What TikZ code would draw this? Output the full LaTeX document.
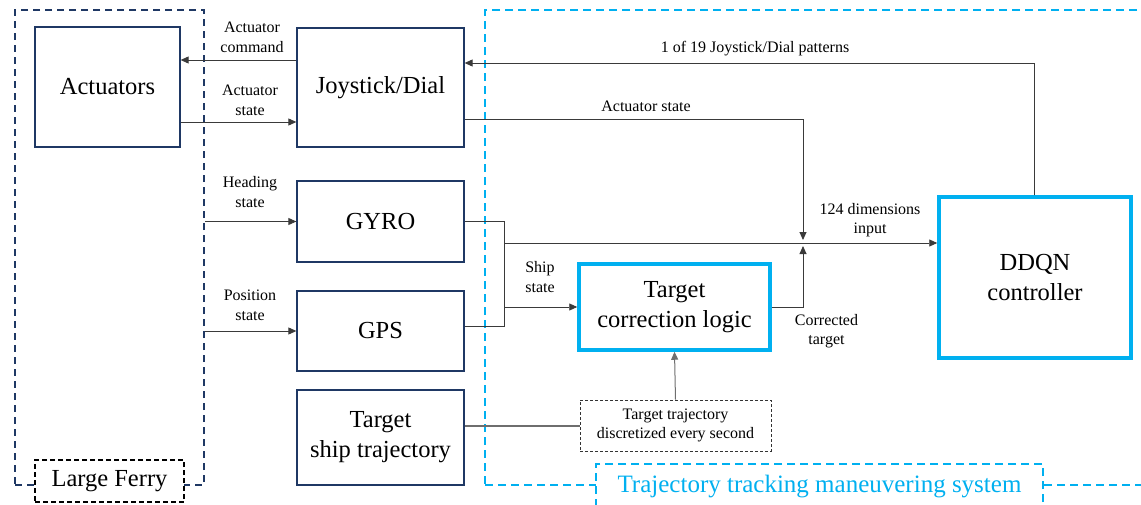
\documentclass[tikz,border=0pt]{standalone}
\usepackage{fontspec}
\setmainfont{Liberation Serif}
\newfontfamily\tnrfont{Liberation Serif}
\usetikzlibrary{arrows.meta}
\definecolor{navy}{HTML}{1F3864}
\definecolor{sky}{HTML}{00B0F0}
\definecolor{wire}{HTML}{3A3A3A}
\definecolor{greywire}{HTML}{6E6E6E}
\begin{document}
\begin{tikzpicture}[x=1pt,y=-1pt,
  bigtext/.style={font=\tnrfont\fontsize{24.5}{30}\selectfont},
  smalltext/.style={font=\tnrfont\fontsize{16}{19.5}\selectfont, align=center, inner sep=0pt},
  blk/.style={draw=navy, line width=1.3pt, align=center, bigtext, inner sep=0pt},
  hot/.style={draw=sky, line width=3.5pt, align=center, bigtext, inner sep=0pt},
  wirel/.style={draw=wire, line width=0.9pt},
  arr/.style={wirel, -{Triangle[length=8pt,width=7pt]}},
  ferryframe/.style={draw=navy, line width=2pt, dash pattern=on 7pt off 5pt, inner sep=0pt},
  sysframe/.style={draw=sky, line width=2pt, dash pattern=on 8pt off 5pt, inner sep=0pt},
]
\useasboundingbox (0,0) rectangle (1141,504);

% frames
\node[ferryframe, minimum width=189pt, minimum height=475pt] (ferry) at (109.5,247.5) {};
\node[sysframe, minimum width=680pt, minimum height=475pt] (sys) at (825,247.5) {};
\node[draw=black, fill=white, line width=2pt, dash pattern=on 5pt off 3pt,
      minimum width=149pt, minimum height=42pt, inner sep=0pt, bigtext] (ferrylbl) at (109.5,481) {Large Ferry};
\node[draw=sky, fill=white, line width=2pt, dash pattern=on 8pt off 5pt, text=sky,
      minimum width=447pt, minimum height=46pt, inner sep=0pt, font=\tnrfont\fontsize{25}{30}\selectfont] (syslbl) at (819.5,487) {Trajectory tracking maneuvering system};

% blocks
\node[blk, minimum width=145pt, minimum height=120pt] (act) at (107.5,87) {Actuators};
\node[blk, minimum width=167pt, minimum height=119pt] (joy) at (380.5,87.5) {Joystick/Dial};
\node[blk, minimum width=167pt, minimum height=81pt] (gyro) at (380.5,221.5) {GYRO};
\node[blk, minimum width=167pt, minimum height=80pt] (gps) at (380.5,331) {GPS};
\node[blk, minimum width=167pt, minimum height=95pt] (tst) at (380.5,437.5) {Target\\ship trajectory};
\node[hot, minimum width=191pt, minimum height=86pt] (tcl) at (674.5,307) {Target\\correction logic};
\node[hot, minimum width=192pt, minimum height=161pt] (ddqn) at (1035,277.5) {DDQN\\controller};
\node[draw=black!80, line width=0.9pt, dash pattern=on 3pt off 2pt, minimum width=191pt, minimum height=51pt,
      smalltext] (dbox) at (675.5,425.5) {Target trajectory\\discretized every second};

% coordinates
\coordinate (cmd) at ([yshift=27.5pt]joy.west);
\coordinate (ast) at ([yshift=-34.5pt]joy.west);
\coordinate (pat) at ([yshift=24.5pt]joy.east);
\coordinate (aso) at ([yshift=-31.5pt]joy.east);
\coordinate (gpso) at ([yshift=5pt]gps.east);
\coordinate (split) at (504,243);
\coordinate (merge) at (803,243);
\coordinate (ddqnin) at (ddqn.west |- split);
\coordinate (ddqntop) at ([xshift=-1pt]ddqn.north);
\coordinate (tstout) at (dbox.west -| tst.east);

% connectors
\draw[arr] (cmd) -- (cmd -| act.east);
\draw[arr] (ast -| act.east) -- (ast);
\draw[arr] (gyro.west -| ferry.east) -- (gyro.west);
\draw[arr] (gps.west -| ferry.east) -- (gps.west);
\draw[arr] (ddqntop) |- (pat);
\draw[arr] (aso) -| ([yshift=3pt]merge);
\draw[wirel] (gyro.east) -| (split |- gpso) -- (gpso);
\draw[arr] (split) -- (ddqnin);
\draw[arr] (split |- tcl.west) -- (tcl.west);
\draw[arr] (tcl.east) -| ([yshift=-3pt]merge);
\draw[draw=greywire, line width=2pt] (tstout) -- (dbox.west);
\draw[draw=greywire, line width=1pt, -{Triangle[length=8pt,width=7pt]}] (dbox.north) -- (tcl.south);

% labels
\node[smalltext] (l1) at (252,37.5) {Actuator\\command};
\node[smalltext] (l2) at (250,100.5) {Actuator\\state};
\node[smalltext] (l3) at (250,192) {Heading\\state};
\node[smalltext] (l4) at (250,305.5) {Position\\state};
\node[smalltext] (l5) at (755,49) {1 of 19 Joystick/Dial patterns};
\node[smalltext] (l6) at (646,106) {Actuator state};
\node[smalltext] (l7) at (870,220) {124 dimensions\\input};
\node[smalltext] (l8) at (540,277) {Ship\\state};
\node[smalltext] (l9) at (826.5,331) {Corrected\\target};
\end{tikzpicture}
\end{document}
